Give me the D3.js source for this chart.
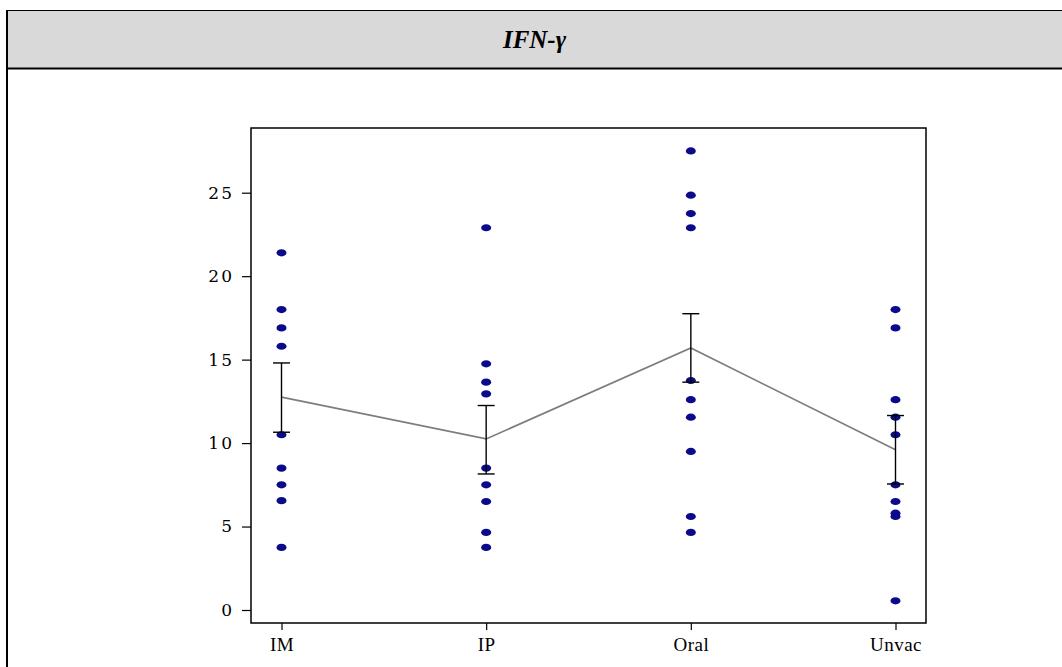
<!DOCTYPE html>
<html>
<head>
<meta charset="utf-8">
<script src="https://cdn.jsdelivr.net/npm/d3@7"></script>
<style>
  html, body { margin: 0; padding: 0; background: #fff; }
  svg { display: block; }
</style>
</head>
<body>
<svg id="chart" width="1062" height="667"></svg>
<script>
// ---- data ----
const title = "IFN-\u03b3";
const categories = ["IM", "IP", "Oral", "Unvac"];
const imValues = [21.4, 18.0, 16.9, 15.8, 10.5, 8.5, 7.5, 6.55, 3.75];
const ipValues = [22.9, 14.75, 13.65, 12.95, 8.5, 7.5, 6.5, 4.65, 3.75];
const oralValues = [27.5, 24.85, 23.75, 22.9, 13.75, 12.6, 11.55, 9.5, 5.6, 4.65];
const unvacValues = [18.0, 16.9, 12.6, 11.55, 10.5, 7.5, 6.5, 5.8, 5.6, 0.55];
const means = [12.75, 10.25, 15.7, 9.6];
const errUpper = [14.8, 12.25, 17.75, 11.65];
const errLower = [10.65, 8.15, 13.65, 7.55];
const yTicks = [0, 5, 10, 15, 20, 25];

const groups = [imValues, ipValues, oralValues, unvacValues];

// ---- layout ----
const svg = d3.select("#chart");
const W = 1062, H = 667;
const frame = { left: 251, right: 926, top: 128, bottom: 623 };

// outer table-like frame
svg.append("rect").attr("x", 7).attr("y", 10).attr("width", W - 7).attr("height", 58)
  .attr("fill", "#d9d9d9");
svg.append("line").attr("x1", 7).attr("x2", W).attr("y1", 10.5).attr("y2", 10.5)
  .attr("stroke", "#000").attr("stroke-width", 1.2);
svg.append("line").attr("x1", 7).attr("x2", W).attr("y1", 68.5).attr("y2", 68.5)
  .attr("stroke", "#000").attr("stroke-width", 2);
svg.append("line").attr("x1", 7).attr("x2", 7).attr("y1", 10).attr("y2", H)
  .attr("stroke", "#000").attr("stroke-width", 2);

svg.append("text")
  .attr("x", (7 + W) / 2).attr("y", 48)
  .attr("text-anchor", "middle")
  .attr("font-family", "'Liberation Serif', serif")
  .attr("font-weight", "bold").attr("font-style", "italic")
  .attr("font-size", 25)
  .text(title);

// scales
const y = d3.scaleLinear().domain([0, 25]).range([610, 192.7]);
const x = d3.scalePoint().domain(categories).range([281.5, 895.5]);

// plot frame
svg.append("rect")
  .attr("x", frame.left).attr("y", frame.top)
  .attr("width", frame.right - frame.left).attr("height", frame.bottom - frame.top)
  .attr("fill", "none").attr("stroke", "#000").attr("stroke-width", 1.5);

// y axis
const yAxis = d3.axisLeft(y).tickValues(yTicks).tickSize(9).tickPadding(8);
const gy = svg.append("g").attr("transform", `translate(${frame.left},0)`).call(yAxis);
gy.select(".domain").remove();
gy.selectAll(".tick line").attr("stroke", "#000").attr("stroke-width", 1.2);
gy.selectAll(".tick text")
  .attr("font-family", "'DejaVu Serif', serif")
  .attr("font-size", 17)
  .attr("letter-spacing", "2px")
  .attr("fill", "#000");

// x axis
const xAxis = d3.axisBottom(x).tickSize(7).tickPadding(8);
const gx = svg.append("g").attr("transform", `translate(0,${frame.bottom})`).call(xAxis);
gx.select(".domain").remove();
gx.selectAll(".tick line").attr("stroke", "#000").attr("stroke-width", 1.2);
gx.selectAll(".tick text")
  .attr("font-family", "'Liberation Serif', serif")
  .attr("font-size", 19)
  .attr("letter-spacing", "0.5px")
  .attr("fill", "#000");

// mean line
const line = d3.line().x((d, i) => x(categories[i])).y(d => y(d));
svg.append("path")
  .datum(means)
  .attr("d", line)
  .attr("fill", "none")
  .attr("stroke", "#7d7d7d")
  .attr("stroke-width", 1.7);

// dots
groups.forEach((vals, gi) => {
  svg.append("g").selectAll("ellipse").data(vals).enter().append("ellipse")
    .attr("cx", x(categories[gi]))
    .attr("cy", d => y(d))
    .attr("rx", 5).attr("ry", 3.6)
    .attr("fill", "#0a0a8a");
});

// error bars
const cap = 8.5;
categories.forEach((c, i) => {
  const g = svg.append("g").attr("stroke", "#000").attr("stroke-width", 1.4);
  g.append("line").attr("x1", x(c)).attr("x2", x(c)).attr("y1", y(errUpper[i])).attr("y2", y(errLower[i]));
  g.append("line").attr("x1", x(c) - cap).attr("x2", x(c) + cap).attr("y1", y(errUpper[i])).attr("y2", y(errUpper[i]));
  g.append("line").attr("x1", x(c) - cap).attr("x2", x(c) + cap).attr("y1", y(errLower[i])).attr("y2", y(errLower[i]));
});
</script>
</body>
</html>
